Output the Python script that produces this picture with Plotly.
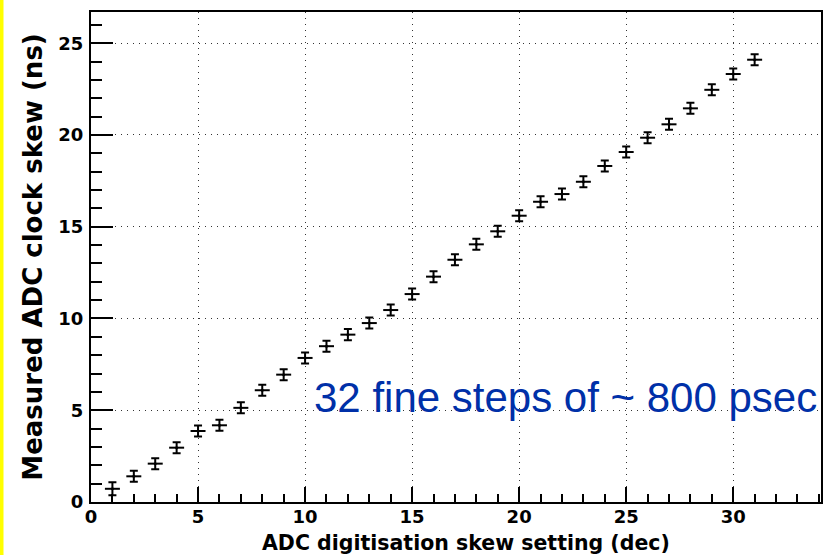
import plotly.graph_objects as go

skew_setting = [1, 2, 3, 4, 5, 6, 7, 8, 9, 10, 11, 12, 13, 14, 15, 16,
                17, 18, 19, 20, 21, 22, 23, 24, 25, 26, 27, 28, 29, 30, 31]
measured_skew = [0.72, 1.40, 2.09, 2.96, 3.87, 4.18, 5.13, 6.09, 6.94, 7.85,
                 8.49, 9.12, 9.75, 10.46, 11.33, 12.28, 13.20, 14.04, 14.75,
                 15.60, 16.36, 16.78, 17.45, 18.31, 19.07, 19.85, 20.58,
                 21.45, 22.46, 23.32, 24.10]
skew_err = [0.35, 0.3, 0.3, 0.3, 0.3, 0.3, 0.3, 0.3, 0.3, 0.3, 0.3, 0.3, 0.3,
            0.3, 0.3, 0.3, 0.3, 0.3, 0.3, 0.3, 0.3, 0.3, 0.3, 0.3, 0.3, 0.3,
            0.3, 0.3, 0.3, 0.3, 0.3]
setting_err = [0.35] * len(skew_setting)

x_ticks = [0, 5, 10, 15, 20, 25, 30]
y_ticks = [0, 5, 10, 15, 20, 25]

W, H = 836, 555
ML, MR, MT, MB = 91, 15, 12, 53
PW = W - ML - MR
PH = H - MT - MB

FONT = "DejaVu Sans, Verdana, sans-serif"

fig = go.Figure()
fig.add_trace(go.Scatter(
    x=skew_setting, y=measured_skew, mode="markers",
    marker=dict(color="black", size=3),
    error_y=dict(type="data", array=skew_err, visible=True, color="black",
                 thickness=2, width=4),
    error_x=dict(type="data", array=setting_err, visible=True, color="black",
                 thickness=2, width=0),
    showlegend=False,
))

tick_font = dict(family=FONT, size=18, color="black", weight="bold")

fig.update_xaxes(
    range=[0, 34.1], tickvals=x_ticks, ticks="inside", ticklen=15, tickwidth=2,
    tickcolor="black", showline=True, linecolor="black", linewidth=2, mirror=True,
    showgrid=True, gridcolor="#333333", griddash="1px,5px", gridwidth=1,
    zeroline=False, tickfont=tick_font, automargin=False, ticklabelstandoff=-3,
    minor=dict(dtick=1, tick0=0, ticks="inside", ticklen=8, tickwidth=2,
               tickcolor="black", showgrid=False),
)
fig.update_yaxes(
    range=[0, 26.7], tickvals=y_ticks, ticks="inside", ticklen=22, tickwidth=2,
    tickcolor="black", showline=True, linecolor="black", linewidth=2, mirror=True,
    showgrid=True, gridcolor="#333333", griddash="1px,5px", gridwidth=1,
    zeroline=False, tickfont=tick_font, ticklabelstandoff=2, automargin=False,
    minor=dict(dtick=1, tick0=0, ticks="inside", ticklen=11, tickwidth=2,
               tickcolor="black", showgrid=False),
    title=dict(text="Measured ADC clock skew (ns)",
               font=dict(family=FONT, size=26, color="black", weight="bold"),
               standoff=8),
)

# x-axis title (slightly right of centre, as in the reference)
fig.add_annotation(
    text="ADC digitisation skew setting (dec)", xref="paper", yref="paper",
    x=(466 - ML) / PW, y=(MT + PH - 543) / PH, xanchor="center", yanchor="middle",
    showarrow=False,
    font=dict(family=FONT, size=20.5, color="black", weight="bold"),
)

fig.add_annotation(
    text="32 fine steps of ~ 800 psec", xref="paper", yref="paper",
    x=(312 - ML) / PW, y=(MT + PH - 397) / PH, xanchor="left", yanchor="middle",
    showarrow=False,
    font=dict(family="Liberation Sans, Arial, sans-serif", size=42, color="#0030a8"),
)

fig.add_shape(type="rect", xref="paper", yref="paper",
              x0=-ML / PW, x1=(3.5 - ML) / PW, y0=-MB / PH, y1=1 + MT / PH,
              fillcolor="#ffff00", line=dict(width=0), layer="below")

fig.update_layout(
    width=W, height=H, margin=dict(l=ML, r=MR, t=MT, b=MB, autoexpand=False),
    paper_bgcolor="white", plot_bgcolor="white",
)

fig.write_html(
    "out.html",
    config={"displayModeBar": False},
    post_script="document.body.style.margin='0';document.body.style.padding='0';",
)
